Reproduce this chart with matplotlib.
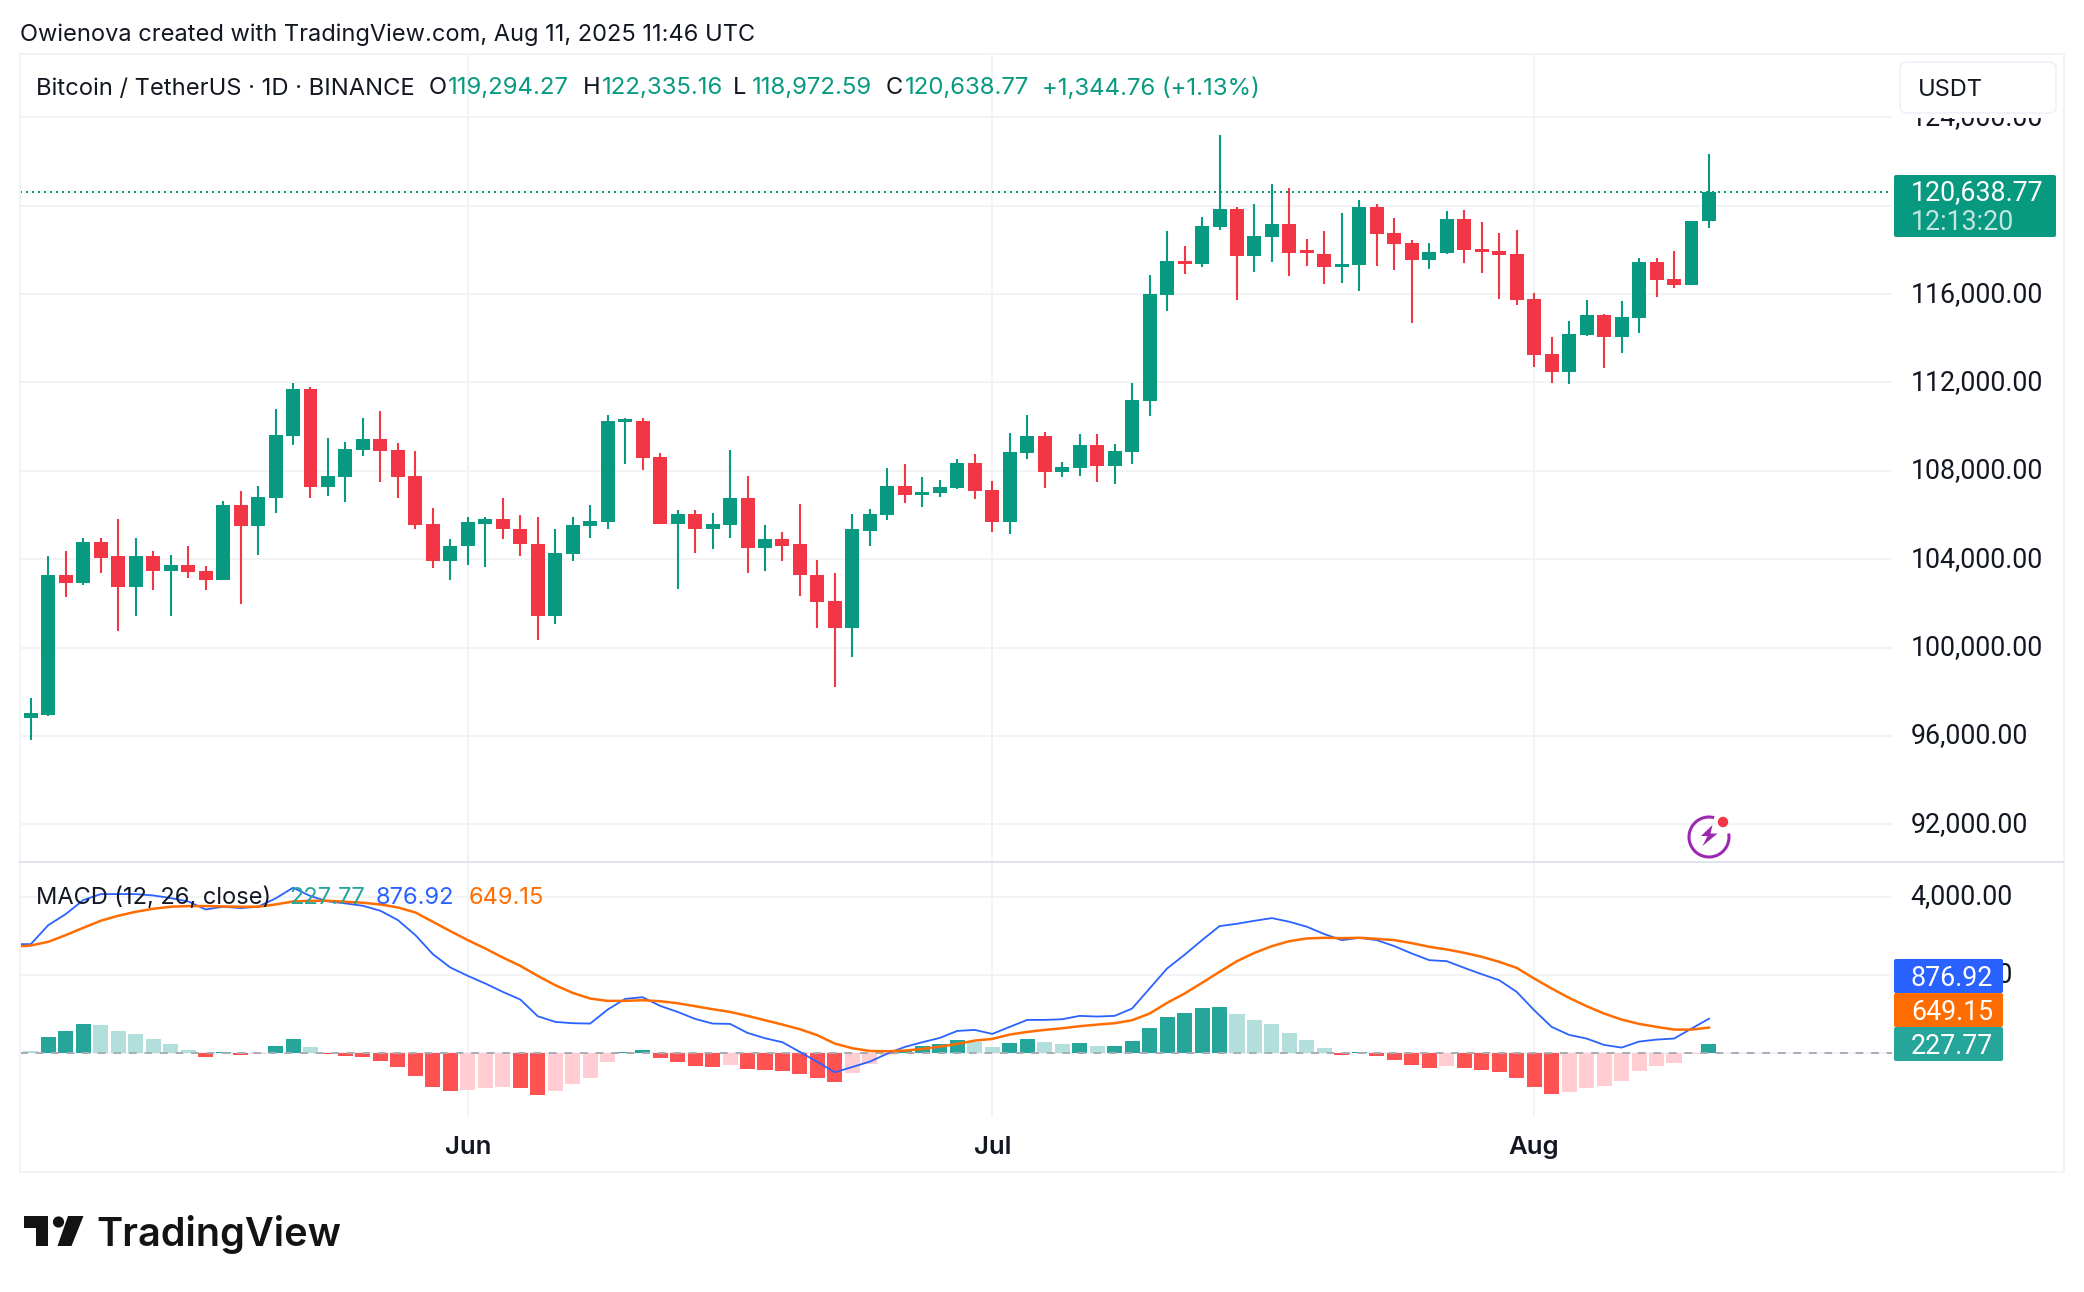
import matplotlib
matplotlib.use('Agg')
import matplotlib.pyplot as plt
from matplotlib.patches import Circle, FancyBboxPatch, Polygon, Rectangle, Arc
from matplotlib.transforms import ScaledTranslation

plt.rcParams['font.family'] = ['Inter', 'DejaVu Sans']

W, H = 2084, 1292
UP, DOWN = '#089981', '#F23645'
GRID = '#F2F3F5'
TEXT = '#131722'

# daily candles, 7 May to 11 Aug 2025
opens = [96800, 96969, 103265, 102947, 104802, 104128, 102759, 104128, 103490, 103753, 103490, 103078, 106470, 105514,
         106789, 109581, 111717, 107276, 107744, 108962, 109450, 108962, 107782, 105608, 103940, 104577, 105608, 105833,
         105383, 104708, 101448, 104259, 105514, 105702, 110218, 110274, 108644, 105608, 106058, 105383, 105570, 106789,
         104521, 104896, 104671, 103303, 102122, 100904, 105289, 106020, 107332, 106920, 107013, 107238, 108363, 107145,
         105664, 108813, 109581, 107969, 108138, 109187, 108232, 108869, 111174, 115971, 117508, 117358, 119045, 119850,
         117733, 118595, 119176, 117958, 117826, 117227, 117319, 119940, 118765, 118313, 117545, 117861, 119398, 118042,
         117952, 117816, 115783, 113298, 112485, 114157, 115060, 114066, 114925, 117455, 116687, 116416, 119294.27]
highs = [97737, 104165, 104352, 104971, 104971, 105833, 104971, 104352, 104202, 104577, 103715, 106657, 107107, 107332,
         110818, 111980, 111811, 109506, 109318, 110405, 110724, 109281, 108906, 106339, 104896, 105889, 105927, 106789,
         106020, 105927, 105346, 105889, 106470, 110537, 110405, 110405, 108813, 106208, 106245, 106114, 108962, 107782,
         105570, 105252, 106507, 103978, 103397, 106058, 106283, 108138, 108288, 107744, 107594, 108550, 108775, 107557,
         109731, 110537, 109768, 108419, 109675, 109675, 109225, 111980, 116871, 118857, 118183, 119494, 123205, 119944,
         120075, 120975, 120806, 118501, 118857, 119663, 120256, 120075, 119443, 118449, 118313, 119759, 119804, 119262,
         118765, 118901, 116054, 114066, 114789, 115738, 115105, 115693, 117636, 117636, 117952, 119307, 122335.16]
lows = [95807, 96894, 102310, 102816, 103359, 100736, 101448, 102628, 101410, 103134, 102628, 103078, 101991, 104202,
        106114, 109187, 106789, 106882, 106601, 108681, 107501, 106789, 105346, 103622, 103078, 103753, 103659, 104896,
        104165, 100361, 101092, 103903, 104971, 105346, 108325, 108044, 105608, 102666, 104296, 104484, 104971, 103397,
        103490, 103940, 102347, 100867, 98206, 99592, 104615, 105795, 106564, 106376, 106826, 107201, 106732, 105252,
        105121, 108550, 107238, 107744, 107782, 107501, 107426, 108325, 110499, 115240, 116908, 117227, 118895, 115746,
        117002, 117452, 116814, 117283, 116458, 116515, 116160, 117274, 117093, 114699, 117139, 117816, 117410, 116958,
        115783, 115512, 112711, 111988, 111943, 114112, 112666, 113343, 114247, 115874, 116280, 116416, 118972.59]
closes = [97025, 103265, 102947, 104802, 104071, 102759, 104128, 103490, 103753, 103434, 103078, 106470, 105514, 106826,
          109637, 111717, 107276, 107782, 109000, 109450, 108906, 107744, 105570, 103940, 104615, 105664, 105833, 105346,
          104671, 101448, 104296, 105570, 105739, 110274, 110330, 108588, 105608, 106058, 105383, 105608, 106789, 104521,
          104896, 104615, 103265, 102085, 100904, 105346, 106058, 107332, 106920, 107051, 107276, 108363, 107107, 105664,
          108869, 109581, 107969, 108194, 109187, 108232, 108906, 111211, 116009, 117508, 117358, 119082, 119850, 117733,
          118632, 119176, 117864, 117864, 117227, 117358, 119940, 118720, 118268, 117545, 117907, 119398, 117997, 117907,
          117771, 115738, 113253, 112485, 114202, 115060, 114066, 114970, 117455, 116642, 116416, 119307, 120638.77]

# macd pane
hist = [43, 402, 555, 735, 709, 555, 479, 350, 222, 68, -111, 26, -60, -34, 171, 350, 145, -34, -85, -111, -214, -368,
        -598, -880, -983, -957, -906, -880, -906, -1085, -983, -803, -650, -239, 26, 68, -137, -239, -342, -368, -316,
        -419, -444, -470, -547, -650, -752, -521, -291, -60, 68, 171, 222, 325, 273, 145, 248, 350, 273, 222, 248, 171,
        171, 299, 632, 915, 1017, 1145, 1171, 991, 838, 735, 504, 325, 120, -60, 26, -85, -188, -316, -393, -342, -393,
        -444, -496, -650, -880, -1060, -1009, -906, -855, -726, -470, -342, -265, -34, 227.77]
# both lines start one day before the first candle, at the pane edge
macd = [2786, 2786, 3273, 3556, 3915, 4068, 4068, 4068, 4034, 3966, 3880, 3675, 3744, 3709, 3744, 3957, 4231, 4017, 3880, 3829,
        3769, 3641, 3402, 3017, 2530, 2188, 1974, 1778, 1564, 1368, 940, 795, 761, 752, 1111, 1385, 1427, 1205, 1051, 872,
        752, 744, 513, 376, 274, 26, -231, -496, -359, -222, -17, 154, 274, 385, 564, 590, 487, 667, 846, 846, 863, 949,
        932, 949, 1137, 1650, 2162, 2513, 2889, 3248, 3308, 3385, 3453, 3359, 3231, 3043, 2889, 2949, 2889, 2735, 2547,
        2376, 2350, 2179, 2017, 1863, 1564, 1094, 667, 462, 368, 205, 137, 291, 342, 368, 624, 876.92]
signal = [2720, 2752, 2846, 3017, 3205, 3385, 3513, 3615, 3692, 3744, 3761, 3761, 3752, 3744, 3744, 3803, 3880, 3897, 3897, 3872,
          3846, 3803, 3726, 3598, 3359, 3120, 2889, 2675, 2444, 2231, 1974, 1735, 1538, 1393, 1333, 1333, 1350, 1325, 1273,
          1197, 1120, 1051, 949, 838, 726, 607, 453, 239, 120, 51, 43, 60, 103, 162, 231, 316, 359, 470, 538, 590, 632, 684,
          726, 761, 838, 1009, 1282, 1521, 1795, 2077, 2350, 2564, 2735, 2863, 2932, 2949, 2940, 2949, 2923, 2889, 2812,
          2718, 2650, 2564, 2462, 2333, 2179, 1906, 1650, 1410, 1197, 1009, 855, 744, 667, 598, 598, 649.15]

price_ticks = [92000, 96000, 100000, 104000, 108000, 112000, 116000, 120000, 124000]
macd_ticks = [2000, 4000]
month_idx = [25, 55, 86]
month_labels = ['Jun', 'Jul', 'Aug']


def axes_px(x0, y0, x1, y1, **kw):
    # axes from pixel box, y measured from the top
    return fig.add_axes([x0 / W, 1 - y1 / H, (x1 - x0) / W, (y1 - y0) / H], **kw)


fig = plt.figure(figsize=(W / 100, H / 100), dpi=100, facecolor='white')

xlim = (-0.618, 106.47)
ax = axes_px(20, 54, 1892, 862)
mx = axes_px(20, 862, 1892, 1116)

for a in (ax, mx):
    a.set_xlim(xlim)
    for s in a.spines.values():
        s.set_visible(False)
    a.set_axisbelow(True)
    a.grid(True, color=GRID, lw=1.4)
    a.yaxis.tick_right()
    a.tick_params(axis='y', length=0, pad=13.5, labelsize=19.3, labelcolor=TEXT, labelfontfamily='Roboto')

# candles
ax.set_ylim(90299, 126864)
ax.set_yticks(price_ticks)
# the 120,000 label sits fully under the last price tag
ax.set_yticklabels(['' if p == 120000 else f'{p:,.2f}' for p in price_ticks])
ax.set_xticks(month_idx)
ax.tick_params(axis='x', length=0, labelbottom=False)
idx = list(range(len(opens)))
colors = [UP if c >= o else DOWN for o, c in zip(opens, closes)]
ax.vlines(idx, lows, highs, colors=colors, lw=1.5, zorder=2)
ax.bar(idx, [max(abs(c - o), 130) for o, c in zip(opens, closes)], bottom=[min(o, c) for o, c in zip(opens, closes)],
       width=0.8, color=colors, zorder=3)
ax.plot([xlim[0], xlim[1]], [closes[-1], closes[-1]], color=UP, lw=1.44, ls=(0, (1, 2)), zorder=4)

# macd
mx.set_ylim(-1615, 4890)
mx.set_yticks(macd_ticks)
mx.set_yticklabels([f'{v:,.2f}' for v in macd_ticks])
mx.set_xticks(month_idx)
mx.set_xticklabels(month_labels, fontsize=18.5, fontweight='semibold', color=TEXT)
mx.tick_params(axis='x', length=0, pad=14.5)

# axis labels sit about 3 px higher than the default centring
lift = ScaledTranslation(0, 0.03, fig.dpi_scale_trans)
for a in (ax, mx):
    for t in a.yaxis.get_major_ticks():
        t.label2.set_transform(t.label2.get_transform() + lift)

prev = [hist[0]] + hist[:-1]
bar_colors = []
for h, p in zip(hist, prev):
    if h >= 0:
        bar_colors.append('#26A69A' if h >= p else '#B2DFDB')
    else:
        bar_colors.append('#FF5252' if h <= p else '#FFCDD2')
# the first bar is pale in the picture, its previous day is off screen
bar_colors[0] = '#B2DFDB'
mx.bar(idx, hist, width=0.86, color=bar_colors, zorder=2)
mx.axhline(0, color='#F0F3FA', lw=1.4, zorder=1)
mx.axhline(0, color='#A9ACB3', lw=1.4, ls=(0, (4, 4)), zorder=3)
line_x = list(range(-1, len(opens)))
mx.plot(line_x, macd, color='#2962FF', lw=1.3, zorder=4)
mx.plot(line_x, signal, color='#FF6D00', lw=1.8, zorder=5)

# overlay in pixels for boxes and header text
ov = fig.add_axes([0, 0, 1, 1], zorder=10)
ov.set_xlim(0, W)
ov.set_ylim(H, 0)
ov.axis('off')
ov.patch.set_alpha(0)

# outer frame and pane separator
ov.add_patch(Rectangle((20, 54), 2044, 1118, fill=False, ec=GRID, lw=1.4))
ov.plot([20, 2064], [862, 862], color='#E0E3EB', lw=1.4)


def txt(x, y, s, color=TEXT, size=17, **kw):
    ov.text(x, y, s, color=color, fontsize=size, va='center_baseline', ha=kw.pop('ha', 'left'), **kw)


txt(20, 32, 'Owienova created with TradingView.com, Aug 11, 2025 11:46 UTC')
txt(36, 86, 'Bitcoin / TetherUS · 1D · BINANCE', size=17.1)
for x, s in [(429, 'O'), (583, 'H'), (733, 'L'), (886, 'C')]:
    txt(x, 86, s)
for x, s in [(448, '119,294.27'), (602, '122,335.16'), (752, '118,972.59'), (905, '120,638.77'),
             (1042, '+1,344.76 (+1.13%)')]:
    txt(x, 86, s, color=UP, size=17.25)

txt(36, 895, 'MACD (12, 26, close)')
txt(289, 895, '227.77', color='#26A69A')
txt(376, 895, '876.92', color='#2962FF')
txt(469, 895, '649.15', color='#FF6D00')

# USDT button and its white margin hide the top of the 124,000 label
ov.add_patch(Rectangle((1893, 55), 168, 63, fc='white', ec='none'))
ov.add_patch(FancyBboxPatch((1906, 68), 144, 39, boxstyle='round,pad=6,rounding_size=7', fc='white', ec='#F0F3FA', lw=1.4))
txt(1918, 88, 'USDT')

# last price tag
ov.add_patch(FancyBboxPatch((1894, 175), 162, 62, boxstyle='round,pad=0,rounding_size=2', fc=UP, ec='none'))
txt(1911, 190, '120,638.77', color='white', size=19.3, family='Roboto')
txt(1911, 219, '12:13:20', color='#C4E6E0', size=19.3, family='Roboto')

# macd value tags
for y0, c, s in [(959, '#2962FF', '876.92'), (993, '#FF6D00', '649.15'), (1027, '#26A69A', '227.77')]:
    ov.add_patch(FancyBboxPatch((1894, y0), 109, 34, boxstyle='round,pad=0,rounding_size=2', fc=c, ec='none'))
    txt(1911, y0 + 17, s, color='white', size=19.3, family='Roboto')

# lightning badge
ov.add_patch(Arc((1709, 837), 40, 40, theta1=-10, theta2=285, color='#9C27B0', lw=2.2))
ov.add_patch(Polygon([(1712.5, 825), (1701, 836), (1707.5, 836), (1702.5, 846), (1717.5, 833.5), (1710.5, 833.5)],
                     fc='#9C27B0', ec='none'))
ov.add_patch(Circle((1723, 822), 5.2, fc=DOWN, ec='none'))

# logo
logo = '#131313'
ov.add_patch(Polygon([(24, 1216), (48, 1216), (48, 1246), (36, 1246), (36, 1228), (24, 1228)], fc=logo, ec='none'))
ov.add_patch(Circle((58.5, 1222), 5.6, fc=logo, ec='none'))
ov.add_patch(Polygon([(68, 1216), (83.5, 1216), (71.5, 1246), (57.5, 1246)], fc=logo, ec='none'))
ov.text(96, 1246, 'TradingView', color=logo, fontsize=28.6, fontweight='semibold', va='baseline', ha='left')

fig.savefig('out.png', dpi=100, facecolor='white')
